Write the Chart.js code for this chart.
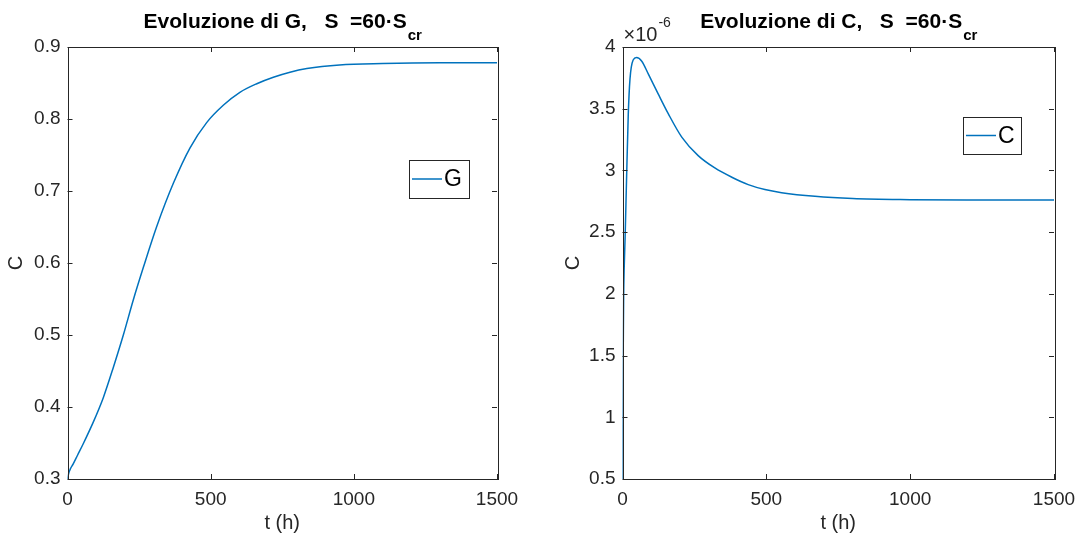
<!DOCTYPE html>
<html>
<head>
<meta charset="utf-8">
<script src="https://cdn.jsdelivr.net/npm/chart.js@4.4.0/dist/chart.umd.min.js"></script>
<style>
  html, body { margin: 0; padding: 0; background: #ffffff; }
  #wrap { position: relative; width: 1076px; height: 537px; }
  .panel { position: absolute; top: 0; width: 538px; height: 537px; }
  #pG { left: 0; }
  #pC { left: 538px; }
</style>
</head>
<body>
<div id="wrap">
  <div class="panel" id="pG"><canvas id="chartG"></canvas></div>
  <div class="panel" id="pC"><canvas id="chartC"></canvas></div>
</div>
<script>
// Time axis (hours) and concentration of G
const tG = [0, 5, 10, 20, 35, 55, 90, 125, 160, 195, 230, 265, 311, 370, 428, 486, 544, 602, 661, 719, 777, 836, 950, 1100, 1300, 1500];
const gValues = [0.300, 0.309, 0.314, 0.321, 0.333, 0.349, 0.379, 0.413, 0.455, 0.500, 0.549, 0.594, 0.650, 0.711, 0.760, 0.795, 0.819, 0.837, 0.849, 0.858, 0.865, 0.870, 0.875, 0.877, 0.878, 0.878];

// Time axis (hours) and concentration of C, in units of 1e-6
const tC = [0, 1, 2, 3, 4, 6, 9, 14, 20, 26, 37, 49, 67, 90, 124, 159, 206, 263, 321, 380, 437, 495, 553, 669, 800, 1000, 1200, 1500];
const cValuesE6 = [0.5, 0.95, 1.35, 1.7, 1.98, 2.22, 2.45, 2.92, 3.45, 3.74, 3.895, 3.915, 3.885, 3.78, 3.62, 3.46, 3.27, 3.12, 3.02, 2.945, 2.885, 2.845, 2.82, 2.79, 2.772, 2.763, 2.76, 2.76];
const cExponent = -6;

// Tick values
const xTicks = [0, 500, 1000, 1500];
const gTicks = [0.3, 0.4, 0.5, 0.6, 0.7, 0.8, 0.9];
const cTicks = [0.5, 1, 1.5, 2, 2.5, 3, 3.5, 4];

const FONT = "'Liberation Sans', Arial, Helvetica, sans-serif";
const AXIS = '#262626';
const LINE = '#0072BD';

function toPoints(xs, ys) { return xs.map((x, i) => ({ x: x, y: ys[i] })); }

function fmt(v) { return String(Math.round(v * 10) / 10); }

// Box around the plot area plus inward tick marks on every side
const boxPlugin = {
  id: 'box',
  afterDatasetsDraw(chart) {
    const { ctx, chartArea: a, scales } = chart;
    ctx.save();
    ctx.strokeStyle = AXIS;
    ctx.lineWidth = 1;
    ctx.beginPath();
    const tl = 5;
    const xs = chart.options.plugins.box.xTicks;
    const ys = chart.options.plugins.box.yTicks;
    xs.forEach(v => {
      const px = Math.round(scales.x.getPixelForValue(v)) + 0.5;
      ctx.moveTo(px, a.bottom); ctx.lineTo(px, a.bottom - tl);
      ctx.moveTo(px, a.top); ctx.lineTo(px, a.top + tl);
    });
    ys.forEach(v => {
      const py = Math.round(scales.y.getPixelForValue(v)) + 0.5;
      ctx.moveTo(a.left, py); ctx.lineTo(a.left + tl, py);
      ctx.moveTo(a.right, py); ctx.lineTo(a.right - tl, py);
    });
    ctx.stroke();
    ctx.strokeRect(Math.round(a.left) + 0.5, Math.round(a.top) + 0.5,
                   Math.round(a.right - a.left), Math.round(a.bottom - a.top));
    ctx.restore();
  }
};

// Title with a subscript, and an optional axis multiplier label
const headerPlugin = {
  id: 'header',
  afterDraw(chart) {
    const o = chart.options.plugins.header;
    const { ctx, chartArea: a } = chart;
    ctx.save();
    ctx.fillStyle = '#000000';
    const mainFont = 'bold 21px ' + FONT;
    const subFont = 'bold 15px ' + FONT;
    ctx.font = mainFont;
    const w1 = ctx.measureText(o.main).width;
    ctx.font = subFont;
    const w2 = ctx.measureText(o.sub).width;
    const x0 = (a.left + a.right) / 2 - (w1 + w2) / 2;
    ctx.textBaseline = 'alphabetic';
    ctx.textAlign = 'left';
    ctx.font = mainFont;
    ctx.fillText(o.main, x0, 28);
    ctx.font = subFont;
    ctx.fillText(o.sub, x0 + w1 + 1, 40);
    if (o.exponent !== undefined) {
      ctx.fillStyle = AXIS;
      ctx.font = '20px ' + FONT;
      const base = '\u00d710';
      ctx.fillText(base, a.left + 1, 41);
      const wb = ctx.measureText(base).width;
      ctx.font = '14px ' + FONT;
      ctx.fillText(String(o.exponent), a.left + 1 + wb + 1, 27);
    }
    ctx.restore();
  }
};

// Boxed legend placed inside the plot area
const boxLegendPlugin = {
  id: 'boxLegend',
  afterDraw(chart) {
    const o = chart.options.plugins.boxLegend;
    const { ctx, chartArea: a } = chart;
    const ds = chart.data.datasets[0];
    const x = a.right - o.offsetRight, y = a.top + o.offsetTop;
    ctx.save();
    ctx.fillStyle = '#ffffff';
    ctx.fillRect(x, y, o.w, o.h);
    ctx.strokeStyle = AXIS;
    ctx.lineWidth = 1;
    ctx.strokeRect(Math.round(x) + 0.5, Math.round(y) + 0.5, o.w, o.h);
    const cy = y + o.h / 2;
    ctx.strokeStyle = ds.borderColor;
    ctx.lineWidth = 1.5;
    ctx.beginPath();
    ctx.moveTo(x + 3, cy); ctx.lineTo(x + 33, cy);
    ctx.stroke();
    ctx.fillStyle = '#000000';
    ctx.font = '23px ' + FONT;
    ctx.textBaseline = 'middle';
    ctx.textAlign = 'left';
    ctx.fillText(ds.label, x + 35, cy + 1);
    ctx.restore();
  }
};

function makeChart(id, cfg) {
  return new Chart(document.getElementById(id), {
    type: 'line',
    data: {
      datasets: [{
        label: cfg.label,
        data: toPoints(cfg.xs, cfg.ys),
        borderColor: LINE,
        borderWidth: 1.5,
        pointRadius: 0,
        fill: false,
        cubicInterpolationMode: 'monotone'
      }]
    },
    options: {
      responsive: false,
      animation: false,
      devicePixelRatio: 1,
      layout: { padding: cfg.padding },
      plugins: {
        legend: { display: false },
        tooltip: { enabled: false },
        box: { xTicks: xTicks, yTicks: cfg.yTicks },
        header: { main: cfg.title, sub: 'cr', exponent: cfg.exponent },
        boxLegend: cfg.legend
      },
      scales: {
        x: {
          type: 'linear', min: 0, max: 1500,
          afterBuildTicks: s => { s.ticks = xTicks.map(v => ({ value: v })); },
          afterFit: s => { s.height = cfg.xHeight; s.paddingLeft = 0; s.paddingRight = 0; },
          grid: { display: false, drawTicks: false },
          border: { display: false },
          ticks: { color: AXIS, font: { family: FONT, size: 19 }, padding: 9, maxRotation: 0, autoSkip: false, callback: v => String(v) },
          title: { display: true, text: 't (h)', color: AXIS, font: { family: FONT, size: 20 }, padding: { top: 0, bottom: 2 } }
        },
        y: {
          type: 'linear', min: cfg.yMin, max: cfg.yMax,
          afterBuildTicks: s => { s.ticks = cfg.yTicks.map(v => ({ value: v })); },
          afterFit: s => { s.width = cfg.yWidth; s.paddingTop = 0; s.paddingBottom = 0; },
          grid: { display: false, drawTicks: false },
          border: { display: false },
          ticks: { color: AXIS, font: { family: FONT, size: 19 }, padding: 7, callback: v => fmt(v), autoSkip: false },
          title: { display: true, text: 'C', color: AXIS, font: { family: FONT, size: 20 }, padding: { top: 4, bottom: 0 } }
        }
      }
    },
    plugins: [boxPlugin, headerPlugin, boxLegendPlugin]
  });
}

function sizeCanvas(id) {
  const c = document.getElementById(id);
  c.width = 538; c.height = 537;
  c.style.width = '538px'; c.style.height = '537px';
}
sizeCanvas('chartG');
sizeCanvas('chartC');

makeChart('chartG', {
  label: 'G', xs: tG, ys: gValues,
  yMin: 0.3, yMax: 0.9, yTicks: gTicks,
  padding: { top: 47, right: 41, bottom: 0, left: 0 },
  yWidth: 67.5, xHeight: 58,
  title: 'Evoluzione di G,   S  =60\u00b7S',
  legend: { offsetRight: 88, offsetTop: 113, w: 60, h: 38 }
});

makeChart('chartC', {
  label: 'C', xs: tC, ys: cValuesE6,
  yMin: 0.5, yMax: 4, yTicks: cTicks,
  padding: { top: 47, right: 22, bottom: 0, left: 19 },
  yWidth: 65.5, xHeight: 58,
  title: 'Evoluzione di C,   S  =60\u00b7S',
  exponent: cExponent,
  legend: { offsetRight: 91, offsetTop: 70, w: 58, h: 37 }
});
</script>
</body>
</html>
